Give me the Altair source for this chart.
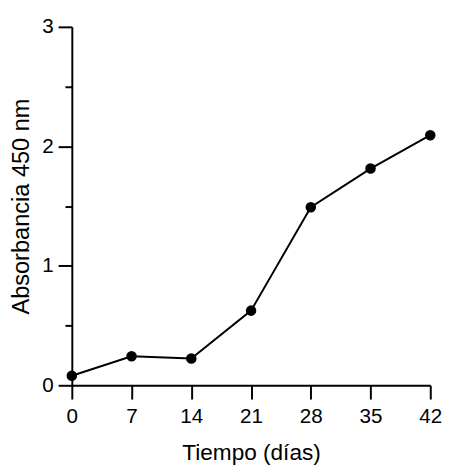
import altair as alt
import pandas as pd

dias = [0, 7, 14, 21, 28, 35, 42]
absorbancia = [0.08, 0.243, 0.224, 0.625, 1.49, 1.814, 2.093]
x_ticks = [0, 7, 14, 21, 28, 35, 42]
y_ticks = [0, 0.5, 1, 1.5, 2, 2.5, 3]

df = pd.DataFrame({"dias": dias, "abs": absorbancia})

FONT = "Liberation Sans"

x = alt.X("dias:Q", scale=alt.Scale(domain=[0, 42], nice=False, zero=False),
          axis=alt.Axis(values=x_ticks, title="Tiempo (días)", format="d",
                        tickSize=14, labelPadding=7, titleFontSize=23, titlePadding=16))
y = alt.Y("abs:Q", scale=alt.Scale(domain=[0, 3], nice=False),
          axis=alt.Axis(values=y_ticks, title="Absorbancia 450 nm",
                        tickSize={"condition": {"test": "datum.value % 1 !== 0", "value": 7}, "value": 14},
                        labelExpr="datum.value % 1 === 0 ? format(datum.value, 'd') : ''",
                        labelPadding=5, titleFontSize=24, titlePadding=8))

base = alt.Chart(df).encode(x=x, y=y)
line = base.mark_line(color="black", strokeWidth=2)
pts = base.mark_point(filled=True, color="black", size=115, opacity=1)

chart = (line + pts).properties(
    width=365, height=365,
    background="white",
    autosize=alt.AutoSizeParams(type="none"),
    padding={"left": 65, "top": 15, "right": 15, "bottom": 79},
).configure_view(strokeWidth=0, stroke="transparent").configure_axis(
    grid=False, tickWidth=2, domainWidth=2, domainColor="black", tickColor="black",
    labelFont=FONT, labelFontSize=21, labelColor="black", labelFlush=False,
    titleFont=FONT, titleFontWeight="normal", titleColor="black",
)

chart.save("out.html", embed_options={"renderer": "svg", "actions": False})
